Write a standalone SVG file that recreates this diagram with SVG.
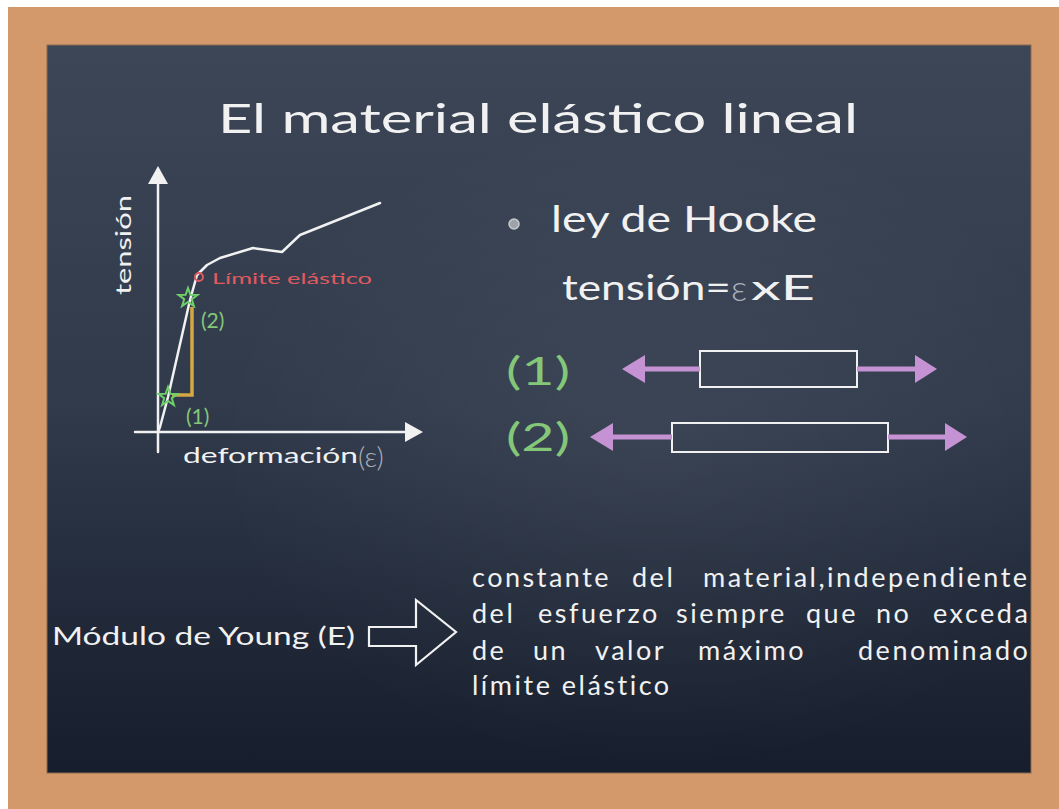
<svg xmlns="http://www.w3.org/2000/svg" width="1059" height="809" viewBox="0 0 1059 809">
<defs>
<linearGradient id="board" x1="0" y1="0" x2="0" y2="1">
<stop offset="0" stop-color="#3c4657"/>
<stop offset="0.5" stop-color="#303a4b"/>
<stop offset="1" stop-color="#161d2c"/>
</linearGradient>
<radialGradient id="glow" cx="0.62" cy="0.55" r="0.45">
<stop offset="0" stop-color="#ffffff" stop-opacity="0.06"/>
<stop offset="1" stop-color="#ffffff" stop-opacity="0"/>
</radialGradient>
<path id="star" d="M0,-10 L2.4,-3.2 L9.5,-3.1 L3.8,1.2 L5.9,8.1 L0,4 L-5.9,8.1 L-3.8,1.2 L-9.5,-3.1 L-2.4,-3.2 Z"/>
</defs>
<style>
.chalk{font-family:"Lato","Noto Sans","DejaVu Sans",sans-serif;fill:#f1f1f1}
.green{font-family:"Lato","Noto Sans",sans-serif;fill:#84c779}
.line{fill:none;stroke:#f1f1f1;stroke-width:2.5;stroke-linecap:round;stroke-linejoin:round}
.purple{fill:none;stroke:#c592d4;stroke-width:5}
.ph{fill:#c592d4}
.star{fill:none;stroke:#6fcf6a;stroke-width:2}
.para{font-size:27px;letter-spacing:2.5px}
</style>
<rect x="0" y="0" width="1059" height="809" fill="#ffffff"/>
<rect x="8" y="7" width="1051" height="802" fill="#d4996b"/>
<rect x="47" y="45" width="984" height="728" fill="url(#board)" stroke="#8a6a50" stroke-width="1"/>
<rect x="47" y="45" width="984" height="728" fill="url(#glow)"/>

<g id="title">
<text class="chalk" x="538" y="133" font-size="40" text-anchor="middle" textLength="640" lengthAdjust="spacingAndGlyphs">El material elástico lineal</text>
</g>

<g id="chart">
<line class="line" x1="158" y1="452" x2="158" y2="180"/>
<path d="M158,166 L168,184 L148,184 Z" fill="#f1f1f1"/>
<line class="line" x1="135" y1="432" x2="408" y2="432"/>
<path d="M423,432 L405,422 L405,442 Z" fill="#f1f1f1"/>
<polyline class="line" points="158,432 160,427 168,397 190,300 197,275 207,265 220,258 253,248 282,252 300,235 380,203"/>
<text class="chalk" x="131" y="245" font-size="22" text-anchor="middle" transform="rotate(-90 131 245)" textLength="100" lengthAdjust="spacingAndGlyphs">tensión</text>
<text class="chalk" x="183" y="463" font-size="22" textLength="175" lengthAdjust="spacingAndGlyphs">deformación</text>
<text x="358" y="467" font-size="28" font-family="Lato,'Noto Sans',sans-serif" fill="#aab0bb" font-weight="300">(ε)</text>
<path d="M172,395 L192,395 L192,307" fill="none" stroke="#d4a843" stroke-width="3.5"/>
<use href="#star" class="star" transform="translate(168,397)"/>
<use href="#star" class="star" transform="translate(188,298)"/>
<circle cx="199" cy="277" r="4" fill="none" stroke="#e05a5f" stroke-width="2"/>
<text x="212" y="284" font-size="16" font-family="Lato,'Noto Sans',sans-serif" fill="#e05a5f" textLength="160" lengthAdjust="spacingAndGlyphs">Límite elástico</text>
<text class="green" x="201" y="328" font-size="21">(2)</text>
<text class="green" x="186" y="424" font-size="21">(1)</text>
</g>

<g id="hooke">
<circle cx="514" cy="224" r="5" fill="#9ea3aa" stroke="#c8cacd" stroke-width="1.5"/>
<text class="chalk" x="551" y="232" font-size="36" textLength="266" lengthAdjust="spacingAndGlyphs">ley de Hooke</text>
<text class="chalk" x="562" y="300" font-size="34" textLength="169" lengthAdjust="spacingAndGlyphs">tensión=</text>
<text x="731" y="301" font-size="36" font-family="Lato,'Noto Sans',sans-serif" font-weight="300" fill="#aab0bb">ε</text>
<text class="chalk" x="751" y="300" font-size="34" textLength="64" lengthAdjust="spacingAndGlyphs">xE</text>
</g>

<g id="bar1">
<text class="green" x="506" y="385" font-size="38" textLength="64" lengthAdjust="spacingAndGlyphs">(1)</text>
<rect x="700" y="351" width="157" height="36" fill="none" stroke="#f1f1f1" stroke-width="2"/>
</g>
<g id="bar2">
<text class="green" x="506" y="451" font-size="38" textLength="64" lengthAdjust="spacingAndGlyphs">(2)</text>
<rect x="672" y="423" width="216" height="29" fill="none" stroke="#f1f1f1" stroke-width="2"/>
</g>

<g id="young">
<text class="chalk" x="52" y="645" font-size="25" textLength="303" lengthAdjust="spacingAndGlyphs">Módulo de Young (E)</text>
</g>
<g id="definition">
<text class="chalk para" y="587"><tspan x="472">constante</tspan> <tspan x="632">del</tspan> <tspan x="703">material,independiente</tspan></text>
<text class="chalk para" y="623"><tspan x="472">del</tspan> <tspan x="538">esfuerzo</tspan> <tspan x="676">siempre</tspan> <tspan x="806">que</tspan> <tspan x="876">no</tspan> <tspan x="933">exceda</tspan></text>
<text class="chalk para" y="660"><tspan x="472">de</tspan> <tspan x="533">un</tspan> <tspan x="595">valor</tspan> <tspan x="698">máximo</tspan> <tspan x="858">denominado</tspan></text>
<text class="chalk para" x="472" y="695">límite elástico</text>
</g>

<g id="connectors">
<line class="purple" x1="640" y1="369" x2="700" y2="369"/>
<path class="ph" d="M622,369 L645,355 L645,383 Z"/>
<line class="purple" x1="857" y1="369" x2="918" y2="369"/>
<path class="ph" d="M937,369 L915,355 L915,383 Z"/>
<line class="purple" x1="608" y1="437" x2="672" y2="437"/>
<path class="ph" d="M590,437 L613,423 L613,451 Z"/>
<line class="purple" x1="888" y1="437" x2="948" y2="437"/>
<path class="ph" d="M967,437 L945,423 L945,451 Z"/>
<path d="M369,627 L416,627 L416,600 L456,632 L416,665 L416,646 L369,646 Z" fill="none" stroke="#f1f1f1" stroke-width="2.2" stroke-linejoin="miter"/>
</g>
</svg>
